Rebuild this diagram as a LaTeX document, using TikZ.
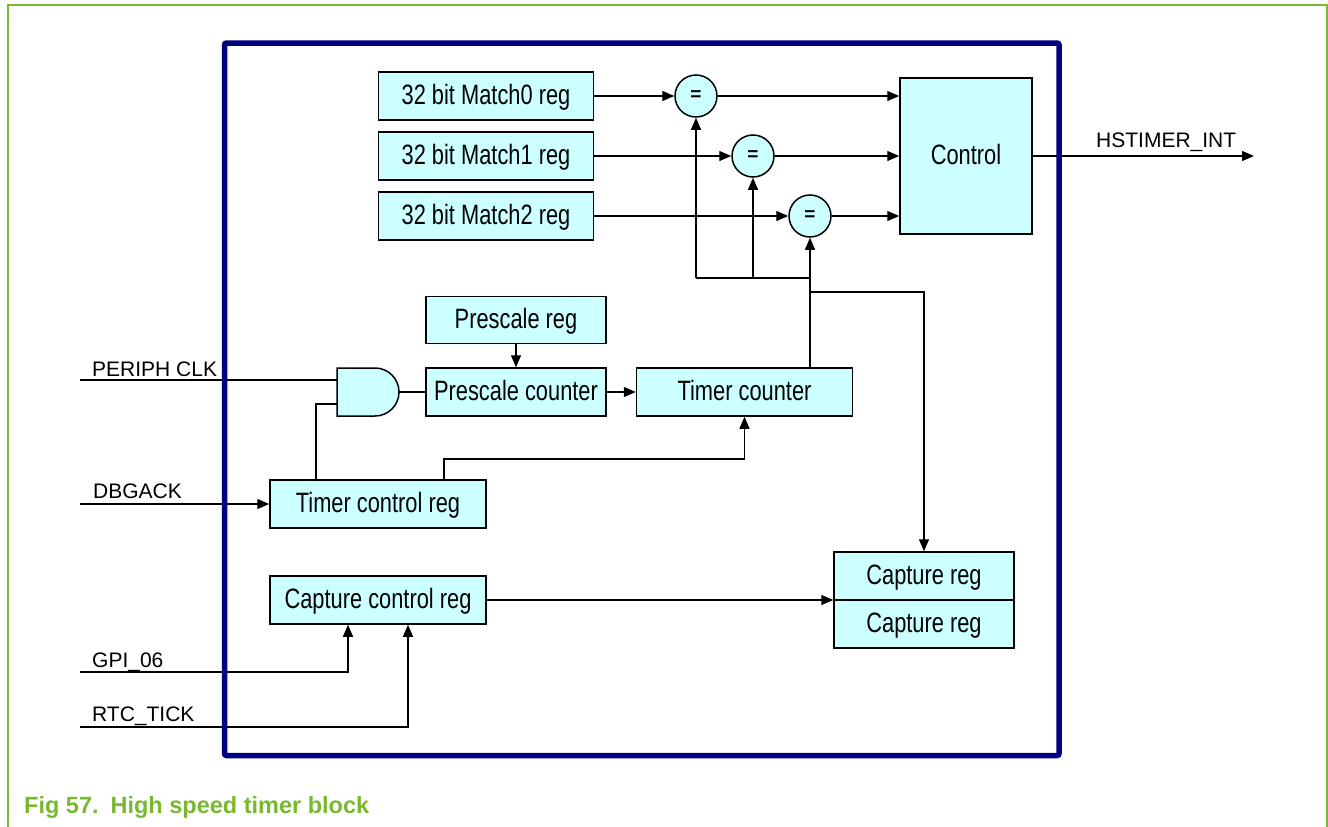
\documentclass[tikz,border=0pt]{standalone}
\usepackage{fontspec}
\setmainfont{Liberation Sans}
\newfontfamily\narrowfont[FakeStretch=0.78]{Liberation Sans}
\usetikzlibrary{arrows.meta,calc}
\definecolor{boxfill}{RGB}{204,255,255}
\definecolor{navyblue}{RGB}{0,0,128}
\definecolor{nxpgreen}{RGB}{122,184,48}
\begin{document}
\begin{tikzpicture}[x=1pt,y=-1pt,
  reg/.style={draw=black, line width=1.5pt, fill=boxfill, inner sep=0pt,
    text height=20pt, text depth=4pt,
    font=\narrowfont\fontsize{28}{32}\selectfont},
  cmp/.style={circle, draw=black, line width=1.5pt, fill=boxfill, minimum size=42pt,
    inner sep=0pt, font=\bfseries\fontsize{19}{22}\selectfont},
  wire/.style={line width=1.3pt},
  arr/.style={wire, -{Triangle[length=12pt,width=10pt]}},
  sig/.style={font=\fontsize{21}{24}\selectfont, inner sep=0pt, anchor=base west},
]
\useasboundingbox (0,0) rectangle (1328,827);

% registers
\node[reg, minimum width=215pt, minimum height=48pt] (m0) at (486,96) {32 bit Match0 reg};
\node[reg, minimum width=215pt, minimum height=48pt] (m1) at (486,156) {32 bit Match1 reg};
\node[reg, minimum width=215pt, minimum height=48pt] (m2) at (486,216) {32 bit Match2 reg};
\node[cmp] (c0) at (696,96) {=};
\node[cmp] (c1) at (753,156) {=};
\node[cmp] (c2) at (810,216) {=};
\node[reg, minimum width=132pt, minimum height=156pt] (ctrl) at (966,156) {Control};
\node[reg, minimum width=180pt, minimum height=47pt] (psr) at (516,320) {Prescale reg};
\node[reg, minimum width=180pt, minimum height=48pt] (psc) at (516,392) {Prescale counter};
\node[reg, minimum width=216pt, minimum height=48pt] (tc) at (744.5,392) {Timer counter};
\node[reg, minimum width=216pt, minimum height=48pt] (tcr) at (378,504) {Timer control reg};
\node[reg, minimum width=216pt, minimum height=48pt] (ccr) at (378,600) {Capture control reg};
\node[reg, minimum width=180pt, minimum height=48pt] (cr1) at (924,576) {Capture reg};
\node[reg, minimum width=180pt, minimum height=48pt] (cr2) at (924,624) {Capture reg};

% AND gate
\node[minimum width=62pt, minimum height=48pt, inner sep=0pt] (andg) at (368,392) {};
\draw[line width=1.5pt, fill=boxfill] (337,368) -- (375,368)
  .. controls (388.25,368) and (399,378.75) .. (399,392)
  .. controls (399,405.25) and (388.25,416) .. (375,416) -- (337,416) -- cycle;
\coordinate (andA) at (337,380);
\coordinate (andB) at (337,404);

% external signals
\coordinate (pclk) at (80,380);
\coordinate (dbg) at (80,504);
\coordinate (gpi) at (80,672);
\coordinate (rtc) at (80,727);
\coordinate (hsout) at (1254,156);
\node[sig] (lpclk) at (92,376) {PERIPH CLK};
\node[sig] (ldbg) at (93,498) {DBGACK};
\node[sig] (lgpi) at (92,667) {GPI\_06};
\node[sig] (lrtc) at (92,721) {RTC\_TICK};
\node[sig] (lhs) at (1096,147) {HSTIMER\_INT};

% match paths
\draw[arr] (m0) -- (c0);
\draw[arr] (m1) -- (c1);
\draw[arr] (m2) -- (c2);
\draw[arr] (c0) -- (c0 -| ctrl.west);
\draw[arr] (c1) -- (c1 -| ctrl.west);
\draw[arr] (c2) -- (c2 -| ctrl.west);
\draw[arr] (ctrl) -- (hsout);

% counter bus
\coordinate (bus) at (810,278);
\coordinate (tap) at (810,292);
\draw[arr] (tc.north -| c2) -- (c2);
\draw[wire] (c0 |- bus) -- (bus);
\draw[arr] (c0 |- bus) -- (c0);
\draw[arr] (c1 |- bus) -- (c1);
\draw[arr] (tap) -| (cr1.north);

% prescaler chain
\draw[arr] (psr) -- (psc);
\draw[arr] (psc) -- (tc);
\draw[wire] (andg.east) -- (psc.west);
\draw[wire] (pclk) -- (andA);
\coordinate (tcrA) at (316,480);
\coordinate (tcrB) at (444,480);
\draw[wire] (andB) -| (tcrA);
\draw[arr] (tcrB) -- ++(0,-21) -| (tc.south);
\draw[arr] (dbg) -- (tcr.west);

% capture
\draw[arr] (ccr.east) -- (ccr.east -| cr1.south west);
\draw[arr] (gpi) -| ($(ccr.south)+(-30,0)$);
\draw[arr] (rtc) -| ($(ccr.south)+(30,0)$);

% block border and frame
\draw[navyblue, line width=5.5pt, rounded corners=2pt] (224.5,43) rectangle (1059,755.5);
\draw[nxpgreen, line width=2pt] (7.5,827) -- (7.5,4.5) -- (1327,4.5) -- (1327,827);
\node[anchor=base west, inner sep=0pt, text=nxpgreen, font=\bfseries\fontsize{23.5}{26}\selectfont] (cap) at (24,813) {Fig 57.\hspace{12pt}High speed timer block};
\end{tikzpicture}
\end{document}
